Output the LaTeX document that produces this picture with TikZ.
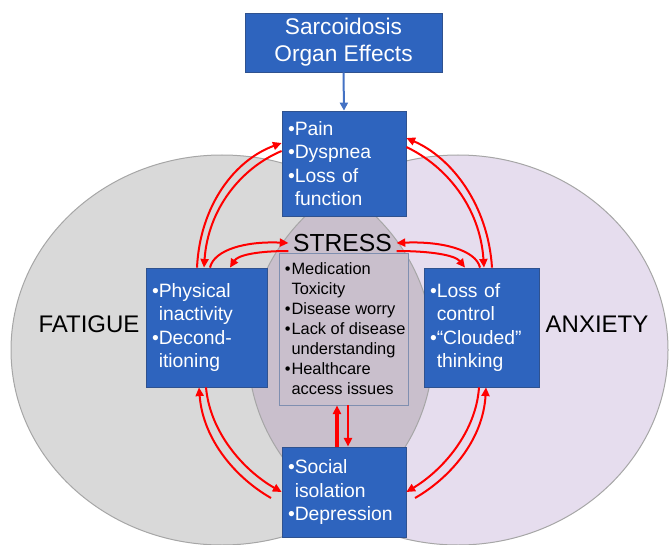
\documentclass[tikz,border=0pt]{standalone}
\usepackage{fontspec}
\setmainfont{Liberation Sans}
\usetikzlibrary{arrows.meta,calc}
\definecolor{boxblue}{HTML}{2E64BE}
\definecolor{boxedge}{HTML}{2F528F}
\definecolor{fatgray}{HTML}{D9D9D9}
\definecolor{fatedge}{HTML}{A6A6A6}
\definecolor{anxpurple}{HTML}{E6DDEE}
\definecolor{lensc}{HTML}{C9BFCC}
\definecolor{arrblue}{HTML}{4472C4}
\definecolor{cedge}{HTML}{7F8FB0}
\begin{document}
\begin{tikzpicture}[x=0.75pt,y=-0.75pt,
  bluebox/.style={draw=boxedge, line width=0.6pt, fill=boxblue, text=white,
    align=left, inner xsep=4.5pt, inner ysep=0pt,
    font=\fontsize{14.5}{17.5}\selectfont},
  bigword/.style={text=black, font=\fontsize{18}{20}\selectfont},
  redarr/.style={draw=red, line width=1.5pt, -{Triangle[length=6.5pt,width=6pt]}},
  ellipseline/.style={draw=fatedge, line width=0.75pt}]
\useasboundingbox (0,0) rectangle (670,545);
% ellipses
\fill[fatgray] (222,350) ellipse [x radius=158.25pt, y radius=146.25pt];
\fill[anxpurple] (458,350) ellipse [x radius=157.5pt, y radius=146.25pt];
\begin{scope}
  \clip (222,350) ellipse [x radius=158.25pt, y radius=146.25pt];
  \fill[lensc] (458,350) ellipse [x radius=157.5pt, y radius=146.25pt];
\end{scope}
\draw[ellipseline] (222,350) ellipse [x radius=158.25pt, y radius=146.25pt];
\draw[ellipseline] (458,350) ellipse [x radius=157.5pt, y radius=146.25pt];
% labels
\node[bigword] (fat) at (89,324) {FATIGUE};
\node[bigword] (anxw) at (597,324) {ANXIETY};
\node[text=black, font=\fontsize{18.5}{20}\selectfont] (stress) at (342.5,243) {STRESS};
% center box
\node[draw=cedge, line width=0.6pt, fill=lensc, minimum width=96.75pt, minimum height=114pt, inner sep=0pt] (cbox) at (343.5,329) {};
\node[anchor=west, align=left, inner sep=0pt, text=black, font=\fontsize{12.3}{15}\selectfont] (ctext) at ($(cbox.west)+(4.5pt,0)$)
  {\makebox[5pt][l]{•}Medication\\\hspace*{5pt}Toxicity\\\makebox[5pt][l]{•}Disease worry\\\makebox[5pt][l]{•}Lack of disease\\\hspace*{5pt}understanding\\\makebox[5pt][l]{•}Healthcare\\\hspace*{5pt}access issues};
% blue boxes
\node[bluebox, align=center, minimum width=147.75pt, minimum height=44.25pt, font=\fontsize{17}{20.25}\selectfont] (sarc) at (343.5,42.5) {Sarcoidosis\\Organ Effects};
\node[bluebox, minimum height=78.75pt, text width=84pt] (pain) at (344,163.5) {•Pain\\•Dyspnea\\•Loss of\\\phantom{•}function};
\node[bluebox, minimum height=89.25pt, text width=81.75pt] (phys) at (206.5,327.5) {•Physical\\\phantom{•}inactivity\\•Decond-\\\phantom{•}itioning};
\node[bluebox, minimum height=89.25pt, text width=77.25pt] (anx) at (481.5,327.5) {•Loss of\\\phantom{•}control\\•“Clouded”\\\phantom{•}thinking};
\node[bluebox, minimum height=67.5pt, text width=84pt] (bot) at (344,492) {•Social\\\phantom{•}isolation\\•Depression};
% blue arrow
\draw[arrblue, line width=1.5pt, -{Triangle[length=6pt,width=6pt]}] (sarc.south) -- (pain.north);
% red arrows: top-left
\draw[redarr] (phys.north -| 197,0) .. controls (200,205) and (235,160) .. (pain.west |- 0,143);
\draw[redarr] (pain.west |- 0,151) .. controls (241,168) and (208,209) .. (phys.north -| 204,0);
% top-right
\draw[redarr] (anx.north -| 492,0) .. controls (488,205) and (452,158) .. (pain.east |- 0,138);
\draw[redarr] (pain.east |- 0,147) .. controls (446,166) and (480,207) .. (anx.north -| 484,0);
% stress-left
\draw[redarr] (phys.north -| 210,0) .. controls (214,250) and (245,241) .. (stress.west);
\draw[redarr] (stress.west |- 0,251) .. controls (258,251) and (238,255) .. (phys.north -| 230,0);
% stress-right
\draw[redarr] (anx.north -| 480,0) .. controls (476,250) and (442,241) .. (stress.east);
\draw[redarr] (stress.east |- 0,251) .. controls (430,251) and (455,255) .. (anx.north -| 465,0);
% bottom-left
\coordinate (blstart) at (271,498);
\draw[redarr] (blstart) .. controls (236,478) and (203,440) .. (phys.south -| 199,0);
\draw[redarr] (phys.south -| 206,0) .. controls (210,432) and (243,470) .. (bot.west |- 0,492);
% bottom-right
\coordinate (brstart) at (415,498);
\draw[redarr] (brstart) .. controls (450,478) and (483,440) .. (anx.south -| 486,0);
\draw[redarr] (anx.south -| 479,0) .. controls (476,432) and (443,470) .. (bot.east |- 0,492);
% vertical
\draw[redarr, line width=2.3pt] (bot.north -| 337,0) -- (cbox.south -| 337,0);
\draw[redarr] (cbox.south -| 348,0) -- (bot.north -| 348,0);
\end{tikzpicture}
\end{document}
